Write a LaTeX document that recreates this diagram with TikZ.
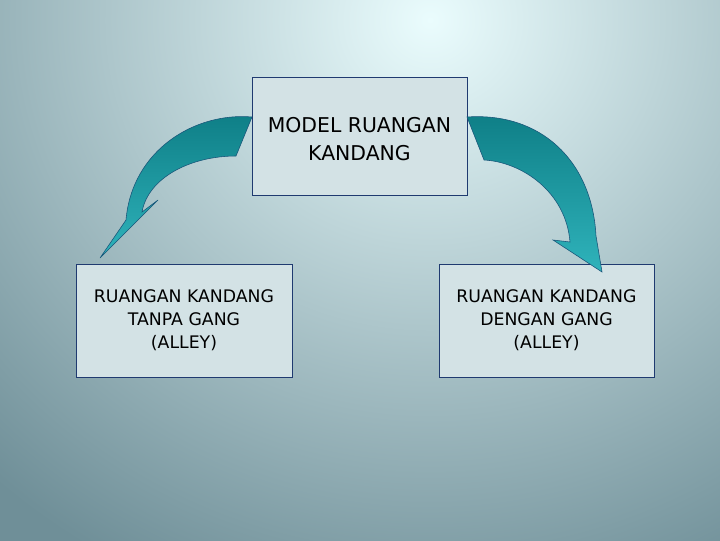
\documentclass[tikz,border=0pt]{standalone}
\usepackage{fontspec}
\setmainfont{DejaVu Sans}
\definecolor{boxfill}{HTML}{D3E2E5}
\definecolor{boxline}{HTML}{1F3A70}
\definecolor{bgin}{HTML}{EAFCFD}
\definecolor{bgout}{HTML}{6F8F98}
\definecolor{arrdark}{HTML}{0E7E86}
\definecolor{arrlight}{HTML}{2FB3BB}
\tikzset{
  kotak/.style={draw=boxline, fill=boxfill, line width=0.6pt, align=center, inner sep=0pt},
  panah/.style={draw=boxline!60!arrdark, line width=0.4pt, top color=arrdark, bottom color=arrlight}
}
\begin{document}
\begin{tikzpicture}[x=0.025cm, y=-0.025cm]
  % background
  \begin{scope}
    \clip (0,0) rectangle (720,540);
    \shade[outer color=bgout, inner color=bgin] (-220,-600) rectangle (1080,640);
  \end{scope}
  \useasboundingbox (0,0) rectangle (720,540);

  % boxes
  \node[kotak, minimum width=215*0.025cm, minimum height=118*0.025cm] (model) at (359.5,136) {};
  \node[align=center, font=\fontsize{14.5}{19.5}\selectfont] (modeltext) at (359.5,139) {MODEL RUANGAN\\KANDANG};
  \node[kotak, minimum width=216*0.025cm, minimum height=113*0.025cm, font=\fontsize{12.3}{16.5}\selectfont] (tanpa) at (184,320.5) {RUANGAN KANDANG\\TANPA GANG\\(ALLEY)};
  \node[kotak, minimum width=215*0.025cm, minimum height=113*0.025cm, font=\fontsize{12.3}{16.5}\selectfont] (dengan) at (546.5,320.5) {RUANGAN KANDANG\\DENGAN GANG\\(ALLEY)};

  % curved arrows
  \draw[panah] (252,117) .. controls (195,112) and (132,150) .. (126,220)
    -- (100,258) -- (158,200) -- (142,212)
    .. controls (148,178) and (190,156) .. (236,156) -- cycle;
  \draw[panah] (467,117) .. controls (540,112) and (592,160) .. (596,236)
    -- (602,272) -- (553,240) -- (570,242)
    .. controls (566,192) and (522,162) .. (484,160) -- cycle;
\end{tikzpicture}
\end{document}
